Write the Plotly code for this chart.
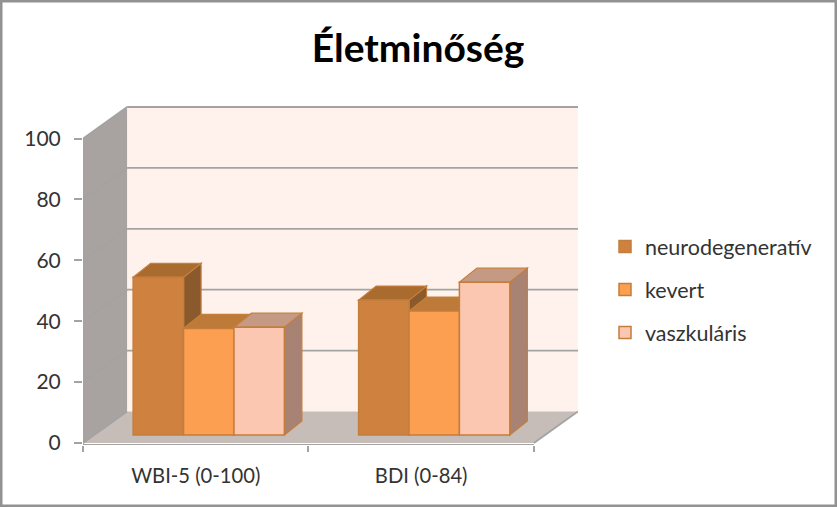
import plotly.graph_objects as go

# --- data ---
categories = ["WBI-5 (0-100)", "BDI (0-84)"]
series_names = ["neurodegeneratív", "kevert", "vaszkuláris"]
neurodegenerativ = [51.8, 44.3]
kevert = [35.0, 40.7]
vaszkularis = [35.4, 50.2]
y_ticks = [0, 20, 40, 60, 80, 100]
series_values = [neurodegenerativ, kevert, vaszkularis]

# --- styles ---
front_cols = ["#CF823F", "#FD9F50", "#FCC7B1"]
top_cols = ["#A96B2E", "#BE7A38", "#C49A85"]
side_cols = ["#8A5A2C", "#A96B2E", "#A88272"]
edge_col = "#C47E3C"
grid_col = "#A3A3A3"
text_col = "#333333"
font_name = "Lato"

# --- geometry of the pseudo 3D box (axis units) ---
PX_X = 225.0   # px per category
PX_Y = 3.045   # px per value unit
XMIN, XFRONT = -0.5, 1.5
WALL_DX, WALL_DY = 44 / PX_X, 31.5 / PX_Y
XMAX = XFRONT + WALL_DX
YMIN, YMAX = -2 / PX_Y, 100 + 32.5 / PX_Y
BAR_W = 50.3 / PX_X
BAR_SHIFT = 13 / PX_X
BAR_BASE = 8 / PX_Y
DEP_X, DEP_Y = 17.5 / PX_X, 14 / PX_Y

L, T = 83, 106
W = 495
H = (YMAX - YMIN) * PX_Y


def poly(pts):
    return "M " + " L ".join(f"{x} {y}" for x, y in pts) + " Z"


def shape(pts, fill, line=None, lw=1.5, layer="below"):
    return dict(type="path", xref="x", yref="y", path=poly(pts), fillcolor=fill, layer=layer,
                line=dict(color=line or fill, width=lw))


def seg(x0, y0, x1, y1, lw=1.8, col=grid_col):
    return dict(type="line", xref="x", yref="y", x0=x0, y0=y0, x1=x1, y1=y1, layer="below",
                line=dict(color=col, width=lw))


bx0, bx1 = XMIN + WALL_DX, XMAX
shapes = [
    # back wall
    shape([(bx0, WALL_DY), (bx1, WALL_DY), (bx1, 100 + WALL_DY), (bx0, 100 + WALL_DY)], "#FFF2ED", lw=0),
    # side wall
    shape([(XMIN, 0), (bx0, WALL_DY), (bx0, 100 + WALL_DY), (XMIN, 100)], "#A8A3A0", lw=0),
    # floor
    shape([(XMIN, 0), (XFRONT, 0), (bx1, WALL_DY), (bx0, WALL_DY)], "#C6BCB8", lw=0),
]
for t in y_ticks:
    shapes.append(seg(XMIN, t, bx0, t + WALL_DY))
    if t > 0:
        shapes.append(seg(bx0, t + WALL_DY, bx1, t + WALL_DY))
shapes += [
    seg(XMIN, YMIN, XMIN, 100),
    seg(XMIN, YMIN, XFRONT, YMIN, lw=2),
    seg(XFRONT, 0, bx1, WALL_DY),
]

# depth faces, computed from the values; left to right so neighbours overlap properly
bar_traces = []
for j, (name, vals) in enumerate(zip(series_names, series_values)):
    xs = [i + BAR_SHIFT + (j - 1) * BAR_W for i in range(len(categories))]
    for xc, v in zip(xs, vals):
        xl, xr = xc - BAR_W / 2, xc + BAR_W / 2
        ytop = BAR_BASE + v
        shapes.append(shape([(xr, BAR_BASE), (xr + DEP_X, BAR_BASE + DEP_Y), (xr + DEP_X, ytop + DEP_Y), (xr, ytop)],
                            side_cols[j], edge_col, 1.2, "between"))
        shapes.append(shape([(xl, ytop), (xr, ytop), (xr + DEP_X, ytop + DEP_Y), (xl + DEP_X, ytop + DEP_Y)],
                            top_cols[j], edge_col, 1.2, "between"))
    bar_traces.append(go.Bar(
        name=name, x=xs, y=vals, base=BAR_BASE, width=BAR_W, legendgroup=name,
        marker=dict(color=front_cols[j], line=dict(color=edge_col, width=1.5)),
    ))

# outer frame
fx = lambda p: (p - L) / W
fy = lambda p: 1 - (p - T) / H
shapes.append(dict(type="rect", xref="paper", yref="paper", x0=fx(0), x1=fx(837), y0=fy(507), y1=fy(0),
                   line=dict(color="#929292", width=5), fillcolor="rgba(0,0,0,0)", layer="below"))

fig = go.Figure(bar_traces)
fig.update_layout(
    width=837, height=507, autosize=False,
    margin=dict(l=L, r=837 - L - W, t=T, b=507 - T - H, pad=0),
    paper_bgcolor="white", plot_bgcolor="rgba(0,0,0,0)",
    barmode="overlay", shapes=shapes,
    font=dict(family=font_name, color=text_col),
    title=dict(text="<b>Életminőség</b>", x=418 / 837, xref="container", xanchor="center", y=0.905, yanchor="middle",
               font=dict(family=font_name, size=39, color="#000000")),
    legend=dict(x=fx(605), xanchor="left", y=fy(226), yanchor="top", tracegroupgap=12,
                traceorder="grouped", bgcolor="rgba(0,0,0,0)",
                font=dict(family=font_name, size=21.5, color=text_col), itemwidth=30),
    xaxis=dict(range=[XMIN, XMAX], tickmode="array", tickvals=list(range(len(categories))), ticktext=categories,
               ticks="", showgrid=False, zeroline=False, showline=False, ticklabelstandoff=17,
               tickfont=dict(family=font_name, size=20.2, color=text_col),
               minor=dict(tickmode="array", tickvals=[-0.5, 0.5, 1.5], ticks="outside", ticklen=6,
                          tickwidth=1.5, tickcolor=grid_col, showgrid=False)),
    yaxis=dict(range=[YMIN, YMAX], tickmode="array", tickvals=y_ticks, ticks="outside", ticklen=8, tickwidth=1.8,
               tickcolor=grid_col, showgrid=False, zeroline=False, showline=False, ticklabelstandoff=9,
               tickfont=dict(family=font_name, size=21, color=text_col)),
)
fig.write_html("out.html", config=dict(displayModeBar=False), post_script="document.body.style.margin='0';")
